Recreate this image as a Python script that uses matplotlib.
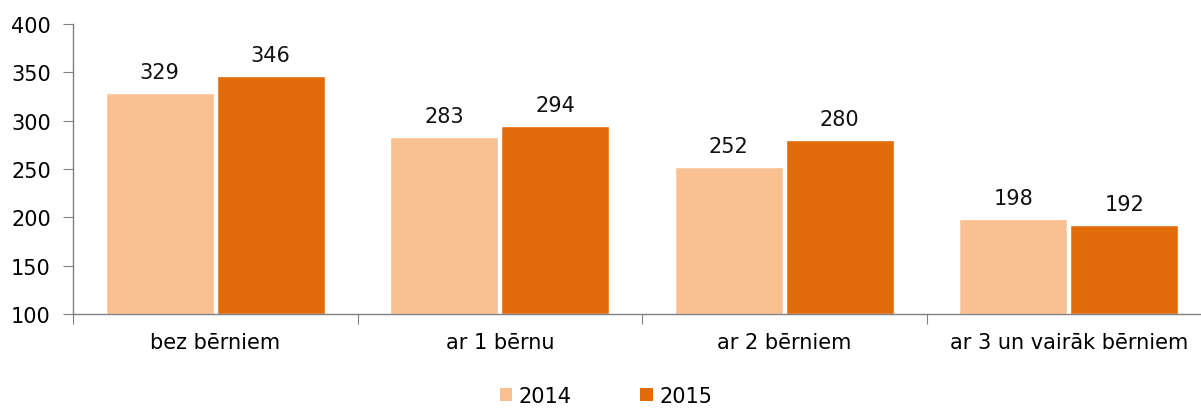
import numpy as np
import matplotlib
matplotlib.use('Agg')
import matplotlib.pyplot as plt
from matplotlib.patches import Patch

# Dati
categories = ['bez bērniem', 'ar 1 bērnu', 'ar 2 bērniem', 'ar 3 un vairāk bērniem']
values_2014 = [329, 283, 252, 198]
values_2015 = [346, 294, 280, 192]
series_labels = ['2014', '2015']
colors = ['#F9C192', '#E36C0A']

plt.rcParams['font.family'] = ['DejaVu Sans']

fig = plt.figure(figsize=(12.01, 4.10), dpi=100)
ax = fig.add_axes([73 / 1201, 1 - 315 / 410, 1128 / 1201, 290 / 410])

x = np.arange(len(categories))
w = 0.38
gap = 0.005
b1 = ax.bar(x - w / 2 - gap, np.array(values_2014) - 100, w, bottom=100,
            color=colors[0], edgecolor='white', linewidth=1)
b2 = ax.bar(x + w / 2 + gap, np.array(values_2015) - 100, w, bottom=100,
            color=colors[1], edgecolor='white', linewidth=1)

for bars, vals in ((b1, values_2014), (b2, values_2015)):
    for rect, v in zip(bars, vals):
        ax.annotate(str(v), (rect.get_x() + rect.get_width() / 2, v),
                    xytext=(0, 8), textcoords='offset points',
                    ha='center', va='bottom', fontsize=15, color='#111111')

ax.set_ylim(100, 400)
ax.set_yticks(range(100, 401, 50))
ax.set_xlim(-0.5, 3.5 - 10 / 284)

# streki starp kategorijām
ax.set_xticks(np.arange(len(categories)) - 0.5)
ax.set_xticklabels([])
ax.set_xticks(x, minor=True)
ax.set_xticklabels(categories, minor=True)
ax.tick_params(axis='x', which='major', length=7, color='#808080', direction='out')
ax.tick_params(axis='x', which='minor', length=0, pad=13, labelsize=15)
ax.tick_params(axis='y', length=7, color='#808080', labelsize=15, pad=9)

for s in ('top', 'right'):
    ax.spines[s].set_visible(False)
for s in ('left', 'bottom'):
    ax.spines[s].set_color('#808080')
    ax.spines[s].set_linewidth(1)

handles = [Patch(facecolor=c, edgecolor='none') for c in colors]
fig.legend(handles, series_labels, loc='center', bbox_to_anchor=(606 / 1201, 13 / 410),
           ncol=2, frameon=False, fontsize=15, handlelength=0.6, handleheight=0.6,
           handletextpad=0.3, columnspacing=3.3, borderpad=0)

fig.savefig('out.png', dpi=100)
